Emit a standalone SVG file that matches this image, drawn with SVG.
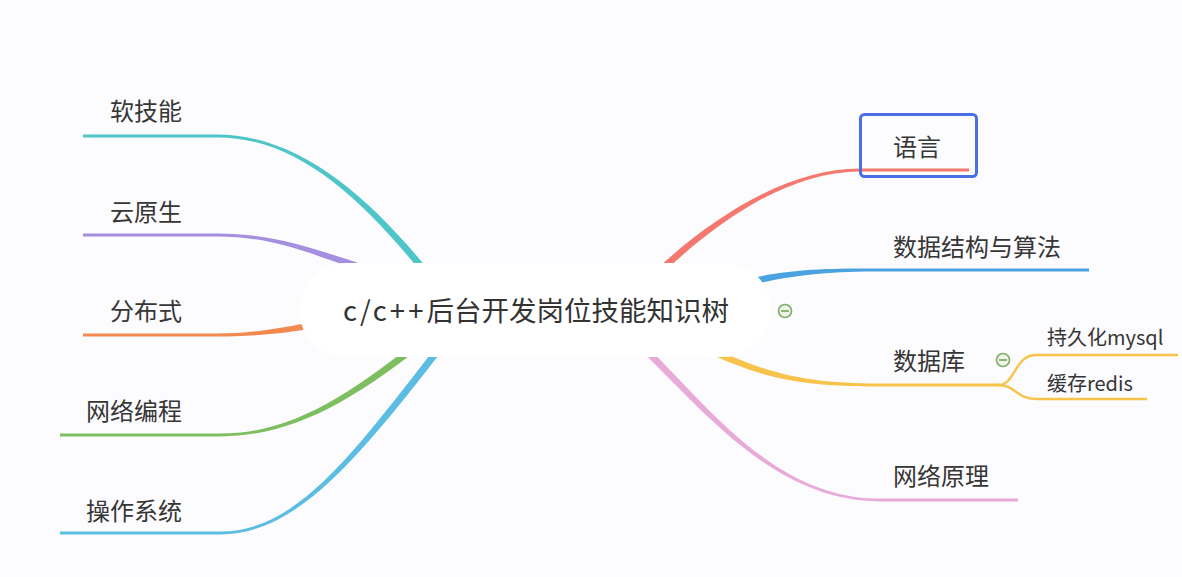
<svg xmlns="http://www.w3.org/2000/svg" width="1182" height="577" viewBox="0 0 1182 577">
<style>
.lbl{font-family:"Noto Sans CJK SC","Noto Sans",sans-serif;font-size:24px;fill:#363636}
.sub{font-family:"Noto Sans CJK SC","Noto Sans",sans-serif;font-size:20px;fill:#363636}
.title{font-family:"Noto Sans CJK SC","Noto Sans",sans-serif;font-size:27.5px;fill:#333}
.tog circle{fill:#eef6ea;stroke:#7fae67;stroke-width:1.6}
.tog line{stroke:#7fae67;stroke-width:1.8}
</style>
<rect x="0" y="0" width="1182" height="577" fill="#fcfbfd"/>
<g id="connectors">
<path fill="#4ec5c8" d="M442.8,287.9 C372.8,197.9 300,134.6 217,134.6 L83,134.6 L83,137.4 L217,137.4 C300,137.4 367.2,202.2 437.2,292.2 Z"/>
<path fill="#a58fdf" d="M401,276.7 C321,251.7 280,233.6 217,233.6 L83,233.6 L83,236.4 L217,236.4 C280,236.4 319,258.3 399,283.3 Z"/>
<path fill="#f28a50" d="M359.3,312.6 C289.3,326.6 260,333.6 215,333.6 L83,333.6 L83,336.4 L215,336.4 C260,336.4 290.7,333.4 360.7,319.4 Z"/>
<path fill="#7dbf5f" d="M427.8,332.3 C347.8,397.3 290,433.6 220,433.6 L60,433.6 L60,436.4 L220,436.4 C290,436.4 352.2,402.7 432.2,337.7 Z"/>
<path fill="#5bbde2" d="M447.2,332.8 C357.2,447.8 300,531.6 220,531.6 L60,531.6 L60,534.4 L220,534.4 C300,534.4 362.8,452.2 452.8,337.2 Z"/>
<path fill="#f4786e" d="M642.5,292.5 C702.5,232.5 780,171.4 860,171.4 L969,171.4 L969,168.6 L860,168.6 C780,168.6 697.5,227.5 637.5,287.5 Z"/>
<path fill="#4aa3e0" d="M721,293.4 C781,275.4 820,271.4 880,271.4 L1089,271.4 L1089,268.6 L880,268.6 C820,268.6 779,268.6 719,286.6 Z"/>
<path fill="#f7c34a" d="M698.4,348.1 C758.4,378.1 800,386.4 880,386.4 L1000,386.4 L1000,383.6 L880,383.6 C800,383.6 761.6,371.9 701.6,341.9 Z"/>
<path fill="none" stroke="#f7c34a" stroke-width="2.4" d="M998,385 C1016,385 1014,355 1036,355 L1178,355"/>
<path fill="none" stroke="#f7c34a" stroke-width="2.4" d="M998,385 C1016,385 1016,399 1036,399 L1147,399"/>
<path fill="#e8aad8" d="M632.6,342.6 C697.6,402.6 770,501.4 880,501.4 L1018,501.4 L1018,498.6 L880,498.6 C770,498.6 702.4,397.4 637.4,337.4 Z"/>
</g>
<g id="root">
<rect x="300" y="263" width="470" height="94" rx="44" fill="#ffffff"/>
<text class="title" x="343" y="321"><tspan letter-spacing="3">c/c++</tspan><tspan>后台开发岗位技能知识树</tspan></text>
<g class="tog"><circle cx="785" cy="311" r="6.5"/><line x1="781" y1="311" x2="789" y2="311"/></g>
</g>
<g id="n-ruanjineng"><text class="lbl" x="110" y="120">软技能</text></g>
<g id="n-yunyuansheng"><text class="lbl" x="110" y="221">云原生</text></g>
<g id="n-fenbushi"><text class="lbl" x="110" y="320">分布式</text></g>
<g id="n-wangluobiancheng"><text class="lbl" x="86" y="420">网络编程</text></g>
<g id="n-caozuoxitong"><text class="lbl" x="86" y="520">操作系统</text></g>
<g id="n-yuyan">
<rect x="860.5" y="114.5" width="116" height="62" rx="4" fill="none" stroke="#4a6ee6" stroke-width="3"/>
<text class="lbl" x="893" y="156">语言</text>
</g>
<g id="n-shujujiegou"><text class="lbl" x="893" y="256">数据结构与算法</text></g>
<g id="n-shujuku">
<text class="lbl" x="893" y="370">数据库</text>
<g class="tog"><circle cx="1003" cy="360" r="6.5"/><line x1="999" y1="360" x2="1007" y2="360"/></g>
</g>
<g id="n-mysql"><text class="sub" x="1047" y="345">持久化mysql</text></g>
<g id="n-redis"><text class="sub" x="1047" y="391">缓存redis</text></g>
<g id="n-wangluoyuanli"><text class="lbl" x="893" y="485">网络原理</text></g>
</svg>
